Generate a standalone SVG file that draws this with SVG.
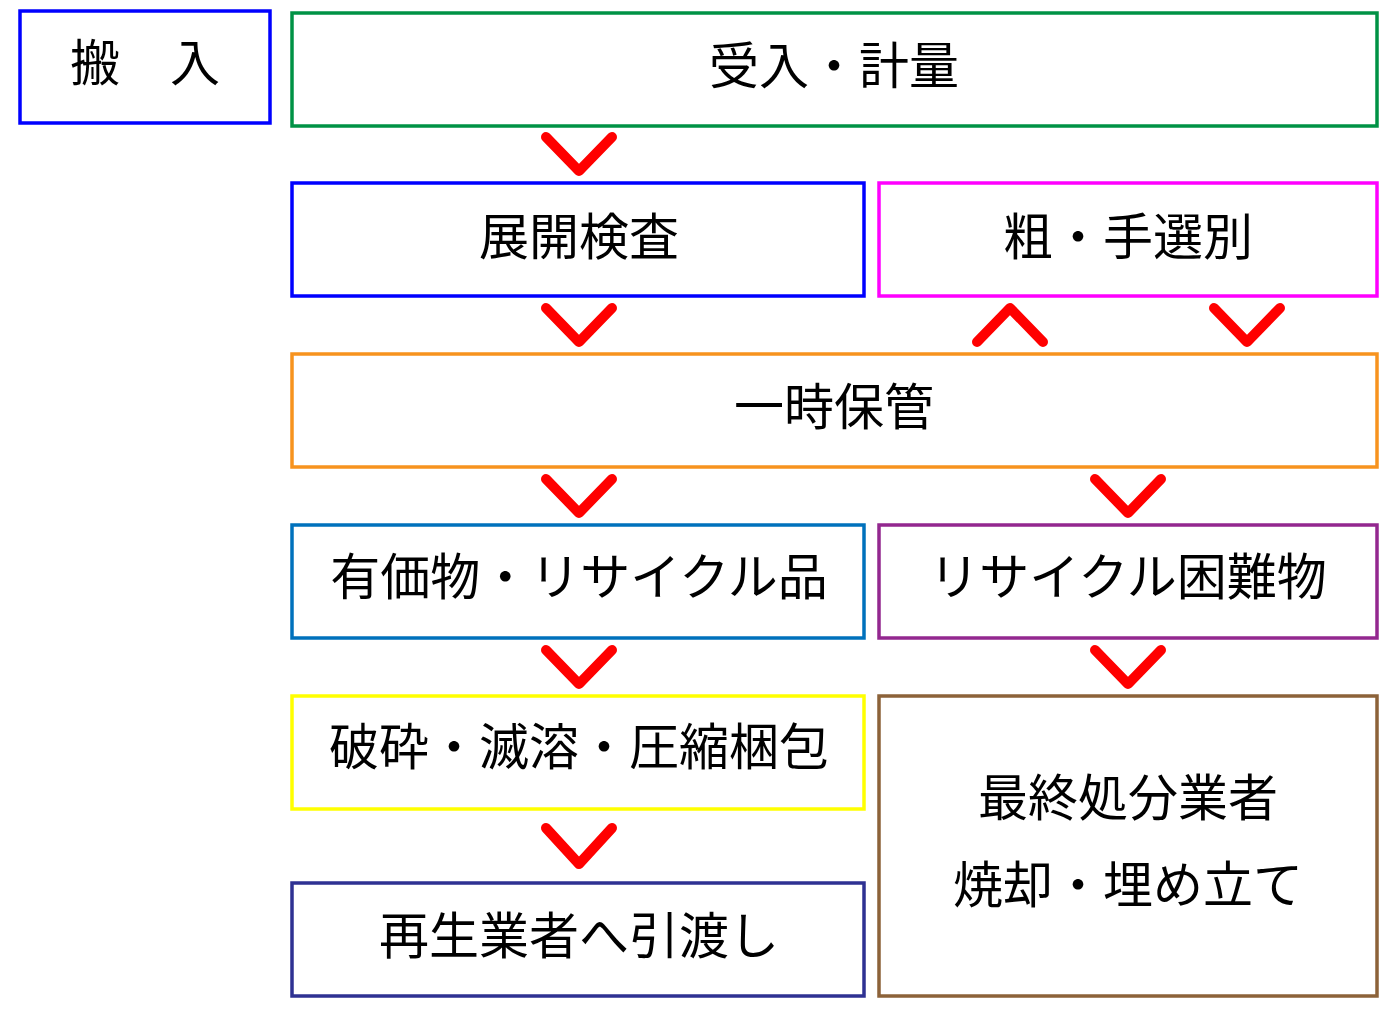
<svg xmlns="http://www.w3.org/2000/svg" width="1400" height="1010" viewBox="0 0 1400 1010">
<style>
.box{fill:#fff;stroke-width:3.5}
.t{font-family:"Noto Sans CJK JP","Noto Sans CJK SC",sans-serif;font-size:50px;fill:#000;text-anchor:middle}
.arr{fill:none;stroke:#ff0000;stroke-width:10;stroke-linecap:round;stroke-linejoin:round}
</style>
<rect width="1400" height="1010" fill="#fff"/>
<g id="n-hannyu"><rect class="box" x="20" y="11" width="250" height="112" stroke="#0000ff"/><text class="t" x="145" y="81">搬　入</text></g>
<g id="n-ukeire"><rect class="box" x="292" y="13" width="1085" height="113" stroke="#009245"/><text class="t" x="834" y="84">受入・計量</text></g>
<g id="n-tenkai"><rect class="box" x="292" y="183" width="572" height="113" stroke="#0000ff"/><text class="t" x="579" y="255">展開検査</text></g>
<g id="n-sosen"><rect class="box" x="879" y="183" width="498" height="113" stroke="#ff00ff"/><text class="t" x="1128" y="255">粗・手選別</text></g>
<g id="n-ichiji"><rect class="box" x="292" y="354" width="1085" height="113" stroke="#f7931e"/><text class="t" x="834" y="425">一時保管</text></g>
<g id="n-yuka"><rect class="box" x="292" y="525" width="572" height="113" stroke="#0071bc"/><text class="t" x="579" y="595">有価物・リサイクル品</text></g>
<g id="n-konnan"><rect class="box" x="879" y="525" width="498" height="113" stroke="#93278f"/><text class="t" x="1128" y="595">リサイクル困難物</text></g>
<g id="n-hasai"><rect class="box" x="292" y="696" width="572" height="113" stroke="#ffff00"/><text class="t" x="579" y="765">破砕・滅溶・圧縮梱包</text></g>
<g id="n-saisei"><rect class="box" x="292" y="883" width="572" height="113" stroke="#2e3192"/><text class="t" x="579" y="954">再生業者へ引渡し</text></g>
<g id="n-saishu"><rect class="box" x="879" y="696" width="498" height="300" stroke="#8c6239"/><text class="t" x="1128" y="816">最終処分業者</text><text class="t" x="1128" y="903">焼却・埋め立て</text></g>
<g id="connectors">
<polyline class="arr" points="546,137 579,171 612,137"/>
<polyline class="arr" points="546,308 579,342 612,308"/>
<polyline class="arr" points="977,342 1010,308 1043,342"/>
<polyline class="arr" points="1214,308 1247,342 1280,308"/>
<polyline class="arr" points="546,479 579,513 612,479"/>
<polyline class="arr" points="1095,479 1128,513 1161,479"/>
<polyline class="arr" points="546,650 579,684 612,650"/>
<polyline class="arr" points="1095,650 1128,684 1161,650"/>
<polyline class="arr" points="546,828 579,864 612,828"/>
</g>
</svg>
